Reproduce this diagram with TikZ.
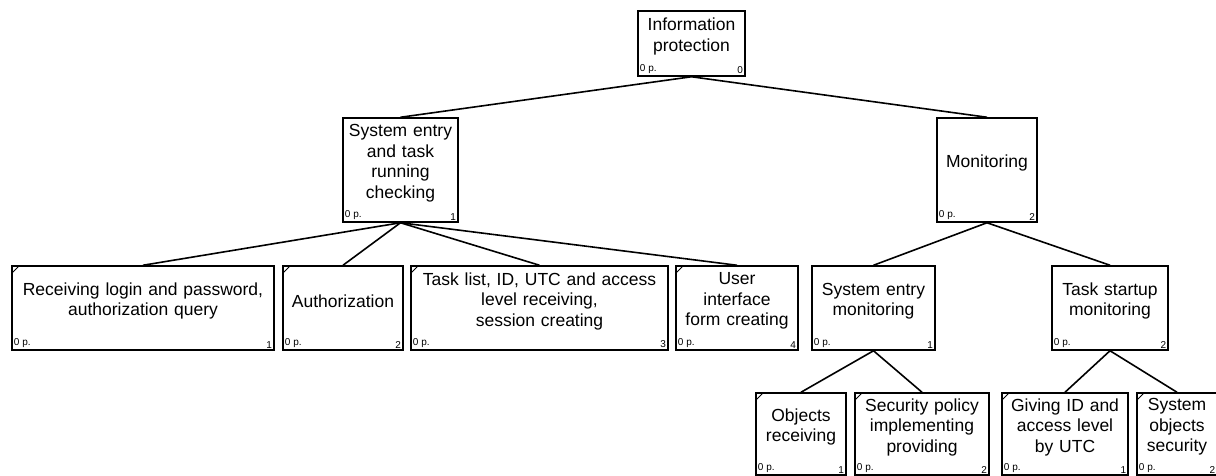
\documentclass[tikz,border=0pt]{standalone}
\usepackage{fontspec}
\setmainfont{Liberation Sans}
\usetikzlibrary{positioning}

% room under the text for the corner numbers
\newcommand{\boxtail}{\par\kern14pt}

\begin{document}
\begin{tikzpicture}[x=1pt,y=-1pt,
  task/.style={draw, line width=1.5pt, inner xsep=0pt, inner ysep=2pt, align=center,
    font=\fontsize{17.5}{20.5}\selectfont, execute at end node=\boxtail,
    label={[pts]south west:0 p.}, label={[pts,anchor=south east]south east:#1}},
  pts/.style={anchor=south west, inner sep=2.5pt, font=\fontsize{10}{11}\selectfont},
  leaf/.style={path picture={\draw[line width=0.9pt]
    ([yshift=-7pt]path picture bounding box.north west) --
    ([xshift=7pt]path picture bounding box.north west);}},
  link/.style={line width=1.6pt}]
  \useasboundingbox (0,0) rectangle (1216,475);

  % top of the tree
  \node[task=0, text width=107, minimum height=65] (info) at (691.5,43.5) {Information\\protection};

  \node[task=1, text width=115, minimum height=104] (check) at (400.5,170) {System entry\\and task\\running\\checking};
  \node[task=2, text width=100, minimum height=104] (monit) at (987,170) {Monitoring};

  % second level
  \node[task=1, leaf, text width=262, minimum height=84] (login) at (143,308) {Receiving login and password,\\authorization query};
  \node[task=2, leaf, text width=120, minimum height=84] (auth) at (343,308) {Authorization};
  \node[task=3, leaf, text width=257, minimum height=84] (tasks) at (539.5,308) {Task list, ID, UTC and access\\level receiving,\\session creating};
  \node[task=4, leaf, text width=122, minimum height=84] (uiform) at (737,308) {User\\interface\\form creating};
  \node[task=1, text width=123, minimum height=84] (entrymon) at (873.5,308) {System entry\\monitoring};
  \node[task=2, text width=116, minimum height=84] (startmon) at (1110,308) {Task startup\\monitoring};

  % third level
  \node[task=1, leaf, text width=90, minimum height=82] (objrecv) at (801,434) {Objects\\receiving};
  \node[task=2, leaf, text width=134, minimum height=82] (secpol) at (922,434) {Security policy\\implementing\\providing};
  \node[task=1, leaf, text width=126, minimum height=82] (giveid) at (1065,434) {Giving ID and\\access level\\by UTC};
  \node[task=2, leaf, text width=80, minimum height=82] (sysobj) at (1177,434) {System\\objects\\security};

  \draw[link] (info.south) -- (check.north);
  \draw[link] (info.south) -- (monit.north);
  \foreach \kid in {login,auth,tasks,uiform}
    \draw[link] (check.south) -- (\kid.north);
  \draw[link] (monit.south) -- (entrymon.north);
  \draw[link] (monit.south) -- (startmon.north);
  \draw[link] (entrymon.south) -- (objrecv.north);
  \draw[link] (entrymon.south) -- (secpol.north);
  \draw[link] (startmon.south) -- (giveid.north);
  \draw[link] (startmon.south) -- (sysobj.north);
\end{tikzpicture}
\end{document}
